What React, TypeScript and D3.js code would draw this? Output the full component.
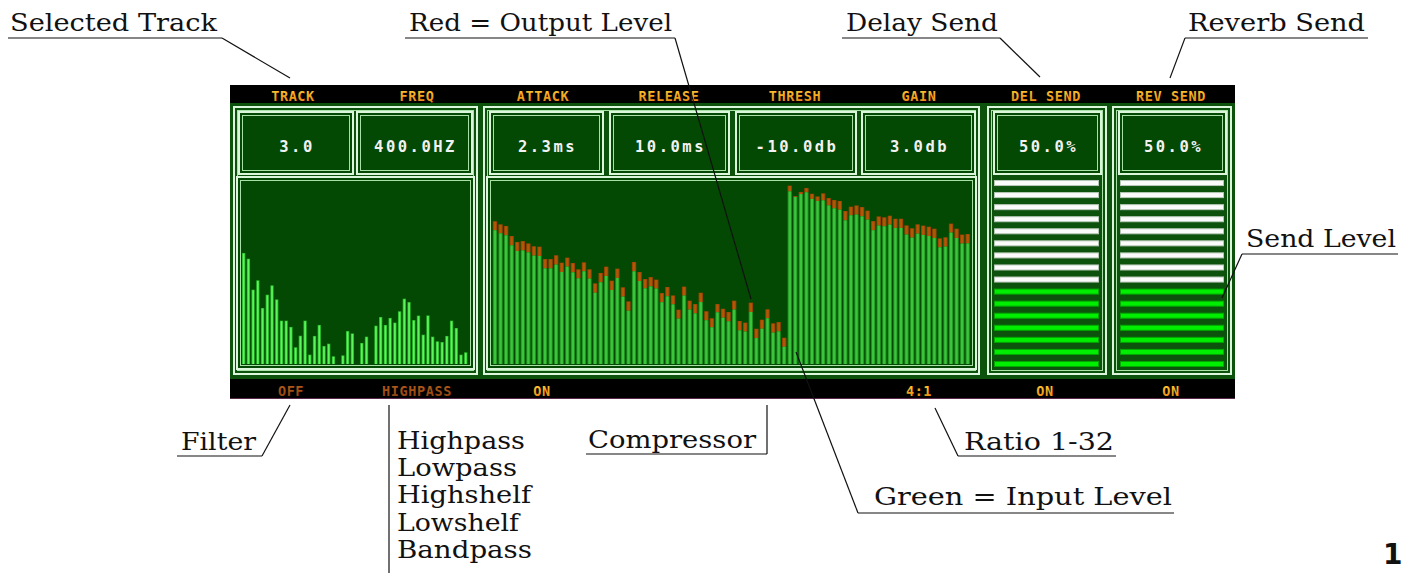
import React from 'react';
import * as d3 from 'd3';

const W = 1402;
const H = 573;

// ---------- DATA ----------
const topLabels = ['TRACK', 'FREQ', 'ATTACK', 'RELEASE', 'THRESH', 'GAIN', 'DEL SEND', 'REV SEND'];
const valueLabels = ['3.0', '400.0HZ', '2.3ms', '10.0ms', '-10.0db', '3.0db', '50.0%', '50.0%'];
const bottomLabels = ['OFF', 'HIGHPASS', 'ON', '4:1', 'ON', 'ON'];
const bottomActive = [false, false, true, true, true, true];
const filterTypes = ['Highpass', 'Lowpass', 'Highshelf', 'Lowshelf', 'Bandpass'];

// filter spectrum (0-100)
const filterSpectrum = [
  61.7, 58.5, 41.3, 46.5, 31.1, 38.5, 43.7, 35.9, 24.1, 24.1, 20.6, 9.3,
  15.7, 24.1, 5.2, 15.6, 21.7, 10.0, 11.3, 4.3, 0, 4.8, 18.3, 17.0,
  0, 11.7, 15.2, 0, 21.3, 26.1, 21.7, 25.6, 23.0, 29.3, 36.3, 34.4,
  24.4, 26.9, 16.3, 27.0, 15.2, 12.6, 12.2, 15.6, 24.1, 20.0, 5.2, 6.5,
];

// compressor: red = output level (top), green = input level
const compOutput = [
  79.3, 77.6, 76.7, 71.1, 67.8, 68.3, 67.0, 65.4, 65.2, 58.3, 58.3, 60.4,
  56.3, 59.1, 56.1, 52.6, 56.5, 52.6, 44.8, 50.6, 54.1, 46.3, 53.0, 42.6,
  34.8, 56.7, 51.1, 47.2, 48.3, 46.9, 39.4, 42.8, 38.1, 30.2, 43.0, 35.2,
  33.3, 39.6, 29.3, 25.4, 33.3, 30.7, 28.9, 35.2, 23.9, 23.0, 34.1, 19.6,
  24.6, 30.4, 22.6, 23.3, 14.6, 99.1, 93.3, 95.6, 97.8, 94.6, 93.1, 94.8,
  92.2, 91.1, 90.6, 85.0, 87.4, 88.1, 87.2, 85.2, 79.4, 82.0, 81.5, 82.4,
  80.7, 80.7, 77.0, 75.4, 77.6, 76.9, 76.3, 75.2, 69.8, 70.4, 78.0, 75.2,
  71.9, 72.2,
];
const compInput = [
  74.3, 72.6, 71.5, 65.9, 62.8, 63.1, 62.0, 60.2, 60.0, 53.1, 53.1, 55.2,
  51.1, 54.1, 50.9, 47.6, 51.5, 47.4, 39.6, 45.4, 48.9, 41.1, 47.8, 37.4,
  29.6, 51.5, 46.1, 42.0, 43.1, 41.9, 34.3, 37.6, 33.1, 25.2, 38.0, 30.2,
  28.1, 34.4, 24.3, 20.4, 28.7, 25.7, 23.7, 30.2, 18.7, 18.0, 28.9, 14.4,
  19.6, 25.4, 17.4, 18.1, 9.6, 95.9, 92.8, 94.4, 95.4, 91.7, 90.6, 90.9,
  88.1, 86.5, 85.7, 79.8, 82.6, 83.0, 82.0, 80.2, 74.3, 76.9, 76.5, 77.4,
  75.6, 75.6, 71.9, 70.2, 72.4, 71.7, 71.1, 70.0, 64.8, 65.2, 73.0, 70.0,
  66.9, 67.0,
];

const sendSegments = 16;
const delayLit = 7;
const reverbLit = 7;

// ---------- LAYOUT ----------
const BODY = '#0c520c';
const INNER = '#034803';
const PIX = "'DejaVu Sans Mono', monospace";
const SERIF = "'DejaVu Serif', 'Liberation Serif', serif";

const topLabelX = [293, 417, 543, 669, 795, 919, 1046, 1171];
const bottomLabelX = [291, 417, 542, 919, 1045, 1171];
const valueBoxes = [
  [238, 354], [356, 473], [489, 604], [609, 730], [735, 857], [861, 976], [993, 1102], [1118, 1227],
];
const panels = [[233, 478], [483, 980], [987, 1107], [1112, 1232]];

function DBox({ x0, y0, x1, y1, fill }: { x0: number; y0: number; x1: number; y1: number; fill: string }) {
  return (
    <g>
      <rect x={x0 + 1} y={y0 + 1} width={x1 - x0 - 2} height={y1 - y0 - 2} fill={fill} stroke="#dcf6dc" strokeWidth={2} />
      <rect x={x0 + 4.5} y={y0 + 4.5} width={x1 - x0 - 9} height={y1 - y0 - 9} fill="none" stroke="#a8e0a8" strokeWidth={1} />
    </g>
  );
}

type Ann = { text: string; x: number; y: number; w: number; ul: [number, number, number]; line: [number, number, number, number] };
const annotations: Ann[] = [
  { text: 'Selected Track', x: 10, y: 31, w: 207, ul: [8, 222, 38], line: [222, 38, 290, 78] },
  { text: 'Red = Output Level', x: 409, y: 31, w: 263, ul: [405, 675, 38], line: [675, 38, 751, 299] },
  { text: 'Delay Send', x: 846, y: 31, w: 152, ul: [842, 1000, 38], line: [1000, 38, 1040, 77] },
  { text: 'Reverb Send', x: 1188, y: 31, w: 177, ul: [1185, 1368, 38], line: [1185, 38, 1170, 78] },
  { text: 'Send Level', x: 1246, y: 247, w: 150, ul: [1242, 1398, 254], line: [1242, 254, 1222, 298] },
  { text: 'Filter', x: 181, y: 450, w: 75, ul: [177, 262, 456], line: [262, 456, 290, 405] },
  { text: 'Compressor', x: 588, y: 448, w: 168, ul: [586, 767, 454], line: [767, 454, 767, 405] },
  { text: 'Ratio 1-32', x: 964, y: 450, w: 150, ul: [958, 1116, 456], line: [958, 456, 935, 408] },
  { text: 'Green = Input Level', x: 874, y: 505, w: 298, ul: [858, 1174, 513], line: [858, 513, 796, 352] },
];
const listW = [128, 120, 134, 122, 135];

export default function App() {
  const y = d3.scaleLinear().domain([0, 100]).range([364, 184]);
  const xf = d3.scaleBand<number>().domain(d3.range(filterSpectrum.length)).range([241.3, 468.1]).paddingInner(0.3).paddingOuter(0.15);
  const xc = d3.scaleBand<number>().domain(d3.range(compOutput.length)).range([492.2, 970.5]).paddingInner(0.22).paddingOuter(0.11);
  const ys = d3.scaleBand<number>().domain(d3.range(sendSegments)).range([177, 370]).paddingInner(0.5).paddingOuter(0.25);

  const sendColumn = (x0: number, x1: number, lit: number, key: string) => (
    <g key={key}>
      {d3.range(sendSegments).map((k) => {
        const on = sendSegments - 1 - k < lit;
        return (
          <rect key={k} x={x0 + 0.5} y={ys(k)! + 0.5} width={x1 - x0 - 1} height={ys.bandwidth() - 1}
            fill={on ? '#00ee00' : '#fbfbfb'} stroke={on ? '#00a800' : '#b8c8b8'} strokeWidth={1} />
        );
      })}
    </g>
  );

  return (
    <svg width={W} height={H} style={{ position: 'absolute', left: 0, top: 0, background: '#fff' }}>
      <defs>
        <linearGradient id="og" x1="0" y1="0" x2="0" y2="1">
          <stop offset="0" stopColor="#ffd23a" />
          <stop offset="1" stopColor="#e8800c" />
        </linearGradient>
        <linearGradient id="dg" x1="0" y1="0" x2="0" y2="1">
          <stop offset="0" stopColor="#b8601c" />
          <stop offset="1" stopColor="#8a3c0c" />
        </linearGradient>
      </defs>
      <rect width={W} height={H} fill="#fff" />

      {/* device */}
      <rect x={230} y={85} width={1005} height={18} fill="#000" />
      <rect x={230} y={103} width={1005} height={276} fill={BODY} />
      <rect x={230} y={379} width={1005} height={19} fill="#000" />
      <line x1={230} x2={1235} y1={398.5} y2={398.5} stroke="#5a2a4a" strokeWidth={1} />

      {topLabels.map((t, i) => (
        <text key={t + i} x={topLabelX[i]} y={100.5} textAnchor="middle" fontFamily={PIX} fontWeight="bold" fontSize={13.5} letterSpacing={0.6} fill="url(#og)">{t}</text>
      ))}
      {bottomLabels.map((t, i) => (
        <text key={t + i} x={bottomLabelX[i]} y={396} textAnchor="middle" fontFamily={PIX} fontWeight="bold" fontSize={13.5} letterSpacing={0.6} fill={bottomActive[i] ? 'url(#og)' : 'url(#dg)'}>{t}</text>
      ))}

      {panels.map(([a, b], i) => (
        <DBox key={'p' + i} x0={a} y0={106} x1={b} y1={375} fill={BODY} />
      ))}
      {valueBoxes.map(([a, b], i) => (
        <g key={'v' + i}>
          <DBox x0={a} y0={111} x1={b} y1={175} fill={INNER} />
          <text x={(a + b) / 2 + 1} y={152} textAnchor="middle" fontFamily={PIX} fontWeight="bold" fontSize={15.5} letterSpacing={2.5} fill="#f2f2f2">{valueLabels[i]}</text>
        </g>
      ))}

      {/* filter chart */}
      <DBox x0={236} y0={176} x1={475} y1={370} fill={INNER} />
      {filterSpectrum.map((v, i) => v > 0 && (
        <g key={'f' + i}>
          <rect x={xf(i)!} y={y(v)} width={xf.bandwidth()} height={y(0) - y(v)} fill="#27b327" />
          <rect x={xf(i)! + 0.8} y={y(v) + 0.6} width={xf.bandwidth() - 1.6} height={y(0) - y(v) - 0.6} fill="#5cf55c" />
        </g>
      ))}

      {/* compressor chart */}
      <DBox x0={486} y0={176} x1={977} y1={370} fill={INNER} />
      {compOutput.map((v, i) => (
        <g key={'c' + i}>
          <rect x={xc(i)!} y={y(v)} width={xc.bandwidth()} height={y(compInput[i]) - y(v)} fill="#9a4400" />
          <rect x={xc(i)! + 1} y={y(v) + 0.5} width={xc.bandwidth() - 2} height={Math.max(0, y(compInput[i]) - y(v) - 0.5)} fill="#b05808" />
          <rect x={xc(i)!} y={y(compInput[i])} width={xc.bandwidth()} height={y(0) - y(compInput[i])} fill="#1f8f1f" />
          <rect x={xc(i)! + 1} y={y(compInput[i])} width={xc.bandwidth() - 2} height={y(0) - y(compInput[i])} fill="#3cc43c" />
        </g>
      ))}

      {/* send levels */}
      {sendColumn(994, 1099, delayLit, 'del')}
      {sendColumn(1120, 1224, reverbLit, 'rev')}

      {/* annotations */}
      {annotations.map((a) => (
        <g key={a.text}>
          <text x={a.x} y={a.y} fontFamily={SERIF} fontSize={25} textLength={a.w} lengthAdjust="spacingAndGlyphs" fill="#111">{a.text}</text>
          <line x1={a.ul[0]} x2={a.ul[1]} y1={a.ul[2]} y2={a.ul[2]} stroke="#111" strokeWidth={1.2} />
          <line x1={a.line[0]} y1={a.line[1]} x2={a.line[2]} y2={a.line[3]} stroke="#111" strokeWidth={1.2} />
        </g>
      ))}
      <line x1={389} x2={389} y1={405} y2={573} stroke="#111" strokeWidth={1.2} />
      {filterTypes.map((t, i) => (
        <text key={t} x={397} y={449 + i * 27.2} fontFamily={SERIF} fontSize={25} textLength={listW[i]} lengthAdjust="spacingAndGlyphs" fill="#111">{t}</text>
      ))}
      <text x={1383} y={564} fontFamily="'DejaVu Sans', sans-serif" fontWeight="bold" fontSize={28} fill="#111">1</text>
    </svg>
  );
}
